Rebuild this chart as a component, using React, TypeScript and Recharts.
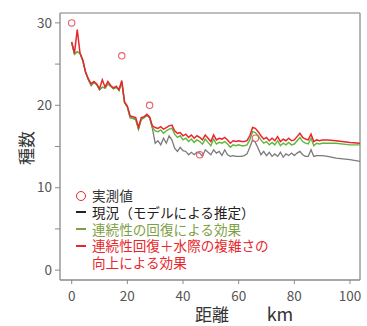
import React from "react";
import * as R from "recharts";
import {
  ComposedChart,
  Line,
  Scatter,
  XAxis,
  YAxis,
} from "recharts";

// Distance along the river (km)
const kmValues: number[] = [
  0, 1, 2, 3, 4, 5, 6, 7, 8, 9, 10, 11, 12, 13, 14, 15, 16, 17, 18, 19, 20, 21, 22, 23, 24, 25, 26, 27, 28, 29,
  30, 31, 32, 33, 34, 35, 36, 37, 38, 39, 40, 41, 42, 43, 44, 45, 46, 47, 48, 49,
  50, 51, 52, 53, 54, 55, 56, 57, 58, 59, 60, 61, 62, 63, 64, 65, 66, 67, 68, 69,
  70, 71, 72, 73, 74, 75, 76, 77, 78, 79, 80, 81, 82, 83, 84, 85, 86, 87, 88, 89,
  90, 92, 95, 100, 103.6,
];

// 現況（モデルによる推定）
const currentValues: number[] = [
  27.6, 26.2, 26.5, 26.3, 25.4, 24.0, 23.1, 22.4, 22.8, 22.5, 21.9, 22.2, 22.1, 22.6, 22.3, 22.0, 22.2, 21.8, 22.8, 20.3,
  19.8, 18.5, 18.4, 18.3, 17.1, 18.3, 18.5, 18.8, 18.5, 17.2,
  15.4, 15.7, 15.2, 16.0, 15.4, 16.3, 15.8, 14.8, 14.4, 14.9,
  14.5, 14.4, 14.0, 14.3, 14.0, 14.3, 14.2, 13.8, 14.6, 14.3,
  14.0, 14.6, 14.2, 14.4, 13.9, 14.6, 14.0, 13.8, 13.9, 13.8,
  13.8, 13.8, 13.9, 14.1, 14.9, 15.8, 15.5, 14.8, 14.0, 14.4,
  13.9, 14.3, 13.8, 14.1, 13.8, 14.3, 13.7, 14.1, 13.9, 14.2,
  13.9, 14.2, 14.4, 14.0, 13.8, 13.8, 14.6, 13.8, 13.9, 13.9,
  13.9, 13.8, 13.6, 13.4, 13.2,
];

// 連続性の回復による効果
const continuityValues: number[] = [
  27.6, 26.2, 26.5, 26.3, 25.4, 24.0, 23.1, 22.4, 22.8, 22.5, 21.9, 22.2, 22.1, 22.6, 22.3, 22.0, 22.2, 21.8, 22.8, 20.3,
  19.8, 18.5, 18.4, 18.3, 17.1, 18.3, 18.5, 18.8, 18.5, 17.3,
  16.9, 16.8, 17.0, 16.6, 16.9, 17.1, 17.2, 16.5, 16.1, 16.3,
  15.8, 16.0, 15.6, 15.9, 15.5, 15.8, 15.6, 15.3, 15.9, 15.5,
  15.1, 15.9, 15.3, 15.5, 15.4, 15.6, 15.3, 14.9, 15.2, 15.1,
  15.2, 15.1, 15.1, 15.2, 15.8, 16.8, 16.7, 16.3, 15.8, 15.4,
  15.6, 15.2, 15.5, 15.2, 15.7, 15.1, 15.4, 15.2, 15.5, 15.2,
  15.3, 15.7, 16.1, 15.6, 15.4, 15.3, 16.0, 15.1, 15.4, 15.3,
  15.4, 15.4, 15.4, 15.2, 15.2,
];

// 連続性回復＋水際の複雑さの向上による効果
const combinedValues: number[] = [
  27.7, 26.3, 29.2, 26.3, 25.5, 24.0, 23.2, 22.6, 22.9, 22.6, 22.0, 23.1, 22.2, 22.9, 22.4, 22.1, 22.3, 21.9, 23.0, 20.4,
  19.9, 18.7, 18.6, 18.5, 17.3, 18.5, 18.6, 18.9, 18.6, 17.5,
  17.3, 17.2, 17.4, 17.1, 17.3, 17.5, 17.6, 16.9, 16.6, 16.7,
  16.3, 16.5, 16.1, 16.4, 16.0, 16.3, 16.1, 15.8, 16.4, 16.0,
  15.6, 16.4, 15.8, 16.0, 15.9, 16.1, 15.8, 15.4, 15.7, 15.6,
  15.7, 15.6, 15.6, 15.7, 16.3, 17.3, 17.2, 16.8, 16.3, 15.9,
  16.1, 15.7, 16.0, 15.7, 16.2, 15.6, 15.9, 15.7, 16.0, 15.7,
  15.8, 16.2, 16.6, 16.1, 15.9, 15.8, 16.5, 15.6, 15.8, 15.7,
  15.8, 15.8, 15.7, 15.5, 15.4,
];

// 実測値
const observedKm: number[] = [0, 18, 28, 46, 66];
const observedValues: number[] = [30, 26, 20, 14, 16];

const xTicks: number[] = [0, 20, 40, 60, 80, 100];
const yTicks: number[] = [0, 5, 10, 15, 20, 25, 30];
const xDomain: [number, number] = [-4.2, 103.6];
const yDomain: [number, number] = [-1.2, 31.2];

const legendLabels = {
  observed: "実測値",
  current: "現況（モデルによる推定）",
  continuity: "連続性の回復による効果",
  combined1: "連続性回復＋水際の複雑さの",
  combined2: "向上による効果",
};

const FONT = '"Noto Sans CJK JP", "Noto Sans", sans-serif';
const RED = "#e8262c";
const GREEN = "#5db83a";
const GRAY = "#7a7a7a";
const OBS = "#e8606c";

const lineData = kmValues.map((km, i) => ({
  km,
  current: currentValues[i],
  continuity: continuityValues[i],
  combined: combinedValues[i],
}));

const obsData = observedKm.map((km, i) => ({ km, obs: observedValues[i] }));

const usePA: () => any = (R as any).usePlotArea || (() => null);
const hasPA = !!(R as any).usePlotArea;

const Frame = () => {
  const pa = usePA();
  if (!pa) return null;
  return (
    <g>
      <line x1={pa.x} y1={pa.y} x2={pa.x + pa.width} y2={pa.y} stroke="#a8a8a8" strokeWidth={1.4} />
      <line
        x1={pa.x + pa.width}
        y1={pa.y}
        x2={pa.x + pa.width}
        y2={pa.y + pa.height}
        stroke="#969696"
        strokeWidth={1.4}
      />
    </g>
  );
};

const ObsShape = (props: any) => {
  const { cx, cy } = props;
  if (cx == null || cy == null) return null;
  return <circle cx={cx} cy={cy} r={3.2} fill="none" stroke={OBS} strokeWidth={1.1} />;
};

const XLabel = (props: any) => {
  const vb = props.viewBox || {};
  const y = (vb.y || 280) + 33;
  return (
    <g fontFamily={FONT} fill="#333">
      <text x={212} y={y} textAnchor="middle" dominantBaseline="central" fontSize={17}>
        距離
      </text>
      <text x={280} y={y} textAnchor="middle" dominantBaseline="central" fontSize={18}>
        km
      </text>
    </g>
  );
};

const YLabel = () => (
  <text
    x={25}
    y={148}
    transform="rotate(-90, 25, 148)"
    textAnchor="middle"
    dominantBaseline="central"
    fontSize={17}
    fontFamily={FONT}
    fill="#333"
  >
    種数
  </text>
);

const legendRow: React.CSSProperties = {
  display: "flex",
  alignItems: "center",
  height: 16.7,
  whiteSpace: "nowrap",
};

const Dash = ({ color }: { color: string }) => (
  <span style={{ display: "inline-block", width: 10, height: 2, background: color, marginRight: 6 }} />
);

export default function App() {
  return (
    <div style={{ position: "absolute", left: 0, top: 0, width: 367, height: 326, background: "#fff" }}>
      <ComposedChart
        width={367}
        height={326}
        data={lineData}
        margin={{ top: 13, right: 7, left: 0, bottom: 0 }}
      >
        <XAxis
          dataKey="km"
          type="number"
          domain={xDomain}
          ticks={xTicks}
          allowDataOverflow
          height={46}
          tickSize={4}
          tickMargin={7}
          axisLine={{ stroke: "#8a8a8a", strokeWidth: 1.3 }}
          tickLine={{ stroke: "#8a8a8a" }}
          tick={{ fill: "#555", fontSize: 13.5, fontFamily: FONT }}
          label={<XLabel />}
        />
        <YAxis
          type="number"
          domain={yDomain}
          ticks={yTicks}
          allowDataOverflow
          width={60}
          tickSize={5}
          tickMargin={3}
          axisLine={{ stroke: "#8a8a8a", strokeWidth: 1.3 }}
          tickLine={{ stroke: "#8a8a8a" }}
          tick={{ fill: "#555", fontSize: 13.5, fontFamily: FONT }}
          tickFormatter={(v: number) => (v % 10 === 0 ? String(v) : "")}
          label={<YLabel />}
        />
        <Line
          dataKey="current"
          stroke={GRAY}
          strokeWidth={1.3}
          dot={false}
          isAnimationActive={false}
        />
        <Line
          dataKey="continuity"
          stroke={GREEN}
          strokeWidth={1.4}
          dot={false}
          isAnimationActive={false}
        />
        <Line
          dataKey="combined"
          stroke={RED}
          strokeWidth={1.5}
          dot={false}
          isAnimationActive={false}
        />
        <Scatter
          data={obsData}
          dataKey="obs"
          shape={<ObsShape />}
          isAnimationActive={false}
        />
        <Frame />
      </ComposedChart>
      {!hasPA && (
        <div
          style={{
            position: "absolute",
            left: 60,
            top: 12,
            width: 301,
            height: 268,
            borderTop: "1.5px solid #a8a8a8",
            borderRight: "1.5px solid #969696",
            boxSizing: "border-box",
            pointerEvents: "none",
            zIndex: 5,
          }}
        />
      )}
      <div
        style={{
          position: "absolute",
          left: 76,
          top: 187.3,
          fontFamily: FONT,
          fontSize: 13.6,
          lineHeight: "16.7px",
          zIndex: 6,
        }}
      >
        <div style={{ ...legendRow, color: "#333" }}>
          <span
            style={{
              display: "inline-block",
              width: 8,
              height: 8,
              borderRadius: "50%",
              border: `1.3px solid ${RED}`,
              marginRight: 6,
              marginLeft: 0,
            }}
          />
          {legendLabels.observed}
        </div>
        <div style={{ ...legendRow, color: "#222" }}>
          <Dash color="#222" />
          {legendLabels.current}
        </div>
        <div style={{ ...legendRow, color: "#7e9f45" }}>
          <Dash color="#7e9f45" />
          {legendLabels.continuity}
        </div>
        <div style={{ ...legendRow, color: RED }}>
          <Dash color={RED} />
          {legendLabels.combined1}
        </div>
        <div style={{ ...legendRow, color: RED, paddingLeft: 16 }}>{legendLabels.combined2}</div>
      </div>
    </div>
  );
}
